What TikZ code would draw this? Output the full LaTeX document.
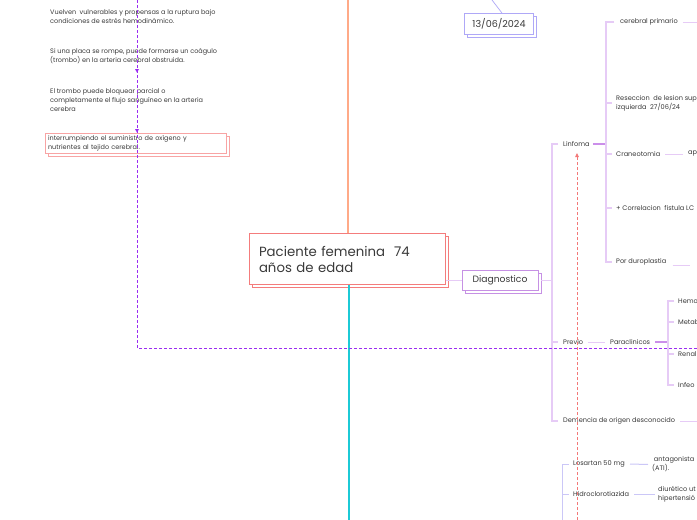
\documentclass[tikz,border=0pt]{standalone}
\usepackage{fontspec}
\setmainfont{Poppins}
\usetikzlibrary{arrows.meta,shadows}
\definecolor{txtc}{HTML}{3A3A3A}
\definecolor{orangec}{HTML}{FFAA88}
\definecolor{cyanc}{HTML}{1CCAD6}
\definecolor{redc}{HTML}{F47C7C}
\definecolor{redlc}{HTML}{F8A4A4}
\definecolor{purpc}{HTML}{C691E4}
\definecolor{lpc}{HTML}{E6CBF6}
\definecolor{thickc}{HTML}{CB8EEA}
\definecolor{lavc}{HTML}{AFA8F7}
\definecolor{lav2c}{HTML}{CBC7F7}
\definecolor{dashpc}{HTML}{9B2CF3}
\definecolor{dashrc}{HTML}{F37878}
\begin{document}
\begin{tikzpicture}[x=1pt,y=-1pt]
\tikzset{
  txt/.style={anchor=west, inner sep=0pt, font=\fontsize{6.5}{9}\selectfont, text=txtc, align=left},
  brtxt/.style={anchor=west, inner sep=0pt, font=\fontsize{6.6}{9}\selectfont, text=txtc, align=left},
  shad/.style={copy shadow={shadow xshift=3pt, shadow yshift=-3pt}},
  mainbox/.style={draw=redc, fill=white, line width=1pt, minimum width=196pt, minimum height=51pt, text width=176pt, align=left, font=\fontsize{13.3}{16}\selectfont, text=txtc, inner sep=0pt, shad},
  diagbox/.style={draw=purpc, fill=white, line width=0.8pt, minimum width=76pt, minimum height=20pt, font=\fontsize{9.2}{10}\selectfont, text=txtc, inner sep=0pt, shad},
  datebox/.style={draw=lavc, fill=white, line width=0.8pt, minimum width=69pt, minimum height=21pt, font=\fontsize{9.6}{10}\selectfont, text=txtc, inner sep=0pt, shad},
  notebox/.style={draw=redlc, fill=white, line width=0.8pt, minimum width=181pt, minimum height=20pt, text width=176pt, align=left, font=\fontsize{6.5}{9}\selectfont, text=txtc, inner sep=0pt, shad},
  lp/.style={draw=lpc, line width=1pt},
  lpv/.style={draw=lpc, line width=1.3pt},
  thk/.style={draw=thickc, line width=1.8pt},
  lav/.style={draw=lav2c, line width=1pt},
  dashp/.style={draw=dashpc, line width=0.8pt, dash pattern=on 3pt off 2pt},
  dashr/.style={draw=dashrc, line width=0.8pt, dash pattern=on 3pt off 2pt},
}
\useasboundingbox (0,0) rectangle (697,520);
\fill[white] (0,0) rectangle (697,520);

% ---------- main spine ----------
\coordinate (topspine) at (348,0);
\coordinate (botspine) at (349,520);
\node[mainbox] (main) at (347,259) {Paciente femenina\ \ 74\\años de edad};
\draw[orangec, line width=2.6pt] (topspine) -- (topspine |- main.north);
\draw[cyanc, line width=2.6pt] (botspine |- main.south) -- (botspine);

% ---------- date ----------
\node[datebox] (date) at (499,24) {13/06/2024};
\coordinate (datetop) at (492,0);
\draw[lavc, line width=0.7pt] ([xshift=3pt]date.north) -- (datetop);

% ---------- left notes ----------
\node[txt] (n1) at (50,16.5) {Vuelven\ \ vulnerables y propensas a la ruptura bajo\\condiciones de estrés hemodinámico.};
\node[txt] (n2) at (50,56.5) {Si una placa se rompe, puede formarse un coágulo\\(trombo) en la arteria cerebral obstruida.};
\node[txt] (n3) at (50,100.5) {El trombo puede bloquear parcial o\\completamente el flujo sanguíneo en la arteria\\cerebra};
\node[notebox] (n4) at (136,143.5) {interrumpiendo el suministro de oxígeno y\\nutrientes al tejido cerebral.};

% ---------- diagnostico ----------
\node[diagbox] (diag) at (500,280) {Diagnostico};
\draw[lp] (main.east |- diag.west) -- (diag.west);
\coordinate (trunk) at (552,280);
\draw[lp] ([xshift=3pt]diag.east) -- (trunk);

\node[brtxt] (linf) at (563,144) {Linfoma};
\node[brtxt] (prev) at (563,342) {Previo};
\node[brtxt] (dem) at (563,421) {Demencia de origen desconocido};
\draw[lpv] ([xshift=-5pt]linf.west) -- (trunk |- linf.west) -- (trunk |- dem.west) -- ([xshift=-5pt]dem.west);
\draw[lpv] (trunk |- prev.west) -- ([xshift=-5pt]prev.west);
\coordinate (demend) at (697,421);
\draw[lp] ([xshift=5pt]dem.east) -- (demend);

% ---------- linfoma children ----------
\coordinate (lt) at (606,144);
\draw[thk] ([xshift=3pt]linf.east) -- (lt);
\node[brtxt] (c1) at (620,22) {cerebral primario};
\node[brtxt] (c2) at (616,103) {Reseccion\ \ de lesion sup\\izquierda\ \ 27/06/24};
\node[brtxt] (c3) at (616,154) {Craneotomia};
\node[brtxt] (c4) at (616,208) {+ Correlacion\ \ fistula LC};
\node[brtxt] (c5) at (616,262) {Por duroplastia};
\draw[lpv] ([xshift=-6pt]c1.west) -- (lt |- c1.west) -- (lt |- c5.west) -- ([xshift=-4pt]c5.west);
\foreach \c in {c2,c3,c4} \draw[lpv] (lt |- \c.west) -- ([xshift=-4pt]\c.west);
\coordinate (c1end) at (697,22);
\draw[lp] ([xshift=5pt]c1.east) -- (c1end);
\node[brtxt] (ap) at (688,154) {ap};
\draw[lp] ([xshift=5pt]c3.east) -- ([xshift=-5pt]ap.west);
\coordinate (c5end) at (690,265);
\draw[lp] ([xshift=6pt]c5.east |- c5end) -- (c5end);

% ---------- previo children ----------
\node[brtxt] (para) at (610,342) {Paraclinicos};
\draw[lp] ([xshift=5pt]prev.east) -- ([xshift=-5pt]para.west);
\coordinate (pt) at (668,342);
\draw[thk] ([xshift=5pt]para.east) -- (pt);
\node[brtxt] (h1) at (678,301) {Hemo};
\node[brtxt] (h2) at (678,322) {Metab};
\node[brtxt] (h3) at (678,354) {Renal};
\node[brtxt] (h4) at (678,385) {Infeo};
\draw[lpv] ([xshift=-4pt]h1.west) -- (pt |- h1.west) -- (pt |- h4.west) -- ([xshift=-4pt]h4.west);
\foreach \h in {h2,h3} \draw[lpv] (pt |- \h.west) -- ([xshift=-4pt]\h.west);

% ---------- medication group ----------
\node[brtxt] (los) at (573,464) {Losartan 50 mg};
\node[brtxt] (hid) at (573,494) {Hidroclorotiazida};
\node[brtxt] (ant) at (652,464.5) {\ antagonista\\(ATI).};
\node[brtxt] (diu) at (658,494) {diurético ut\\hipertensió};
\coordinate (mt) at (562,520);
\draw[lav] ([xshift=-4pt]los.west) -- (mt |- los.west) -- (mt);
\draw[lav] (mt |- hid.west) -- ([xshift=-4pt]hid.west);
\draw[lav] ([xshift=5pt]los.east) -- ([xshift=-4pt]ant.west);
\draw[lav] ([xshift=5pt]hid.east) -- ([xshift=-3pt]diu.west);

% ---------- relationship lines ----------
\coordinate (rtop) at (577,153);
\coordinate (rbot) at (577,520);
\draw[dashr, -{Triangle[length=4pt,width=3.5pt]}] (rbot) -- (rtop);

\coordinate (ptop) at (137,0);
\coordinate (pcorner) at (137,348);
\coordinate (pend) at (697,348);
\draw[dashp] (ptop) -- (pcorner) -- (pend);
\coordinate (pm1) at (137,71);
\coordinate (pm2) at (137,131);
\fill[dashpc] (pm1) ++(-2,-2) -- ++(4,0) -- ++(-2,3.5) -- cycle;
\fill[dashpc] (pm2) ++(-2,-2) -- ++(4,0) -- ++(-2,3.5) -- cycle;
\end{tikzpicture}
\end{document}
